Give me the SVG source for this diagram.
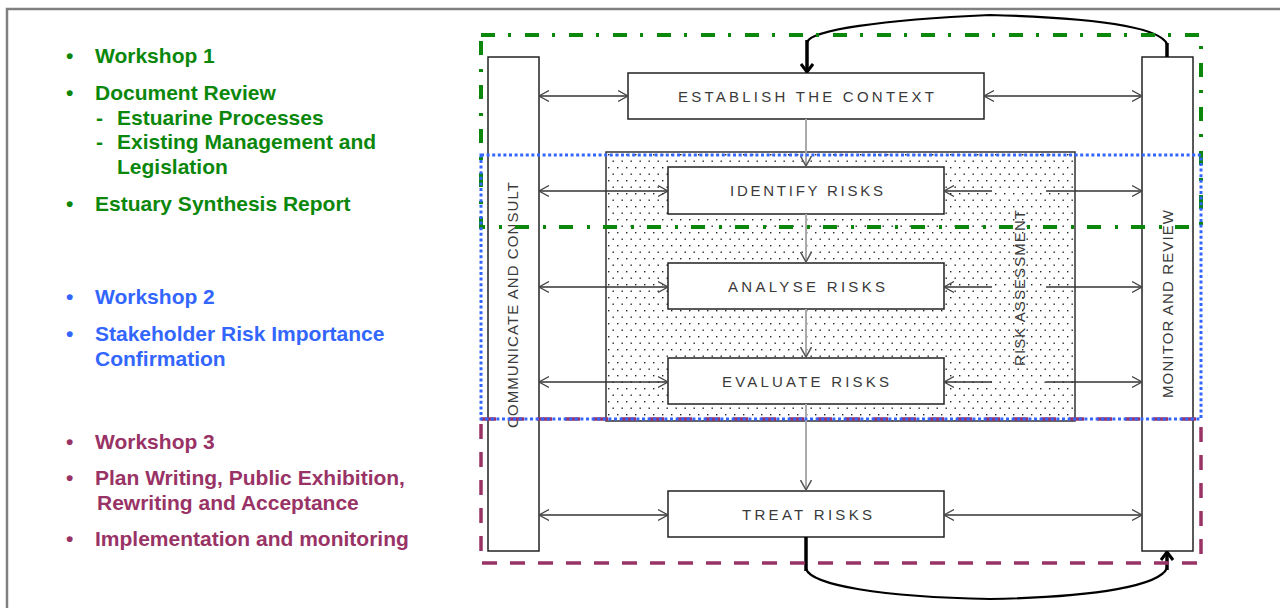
<svg xmlns="http://www.w3.org/2000/svg" width="1280" height="608" viewBox="0 0 1280 608">
<style>
.frame{stroke:#808080;stroke-width:2.5;fill:none}
.box{fill:#fff;stroke:#222;stroke-width:1.5}
.lbl{font-family:"Liberation Sans",Arial,sans-serif;font-size:15px;fill:#3a3a3a;text-anchor:middle}
.bl{font-family:"Liberation Sans",Arial,sans-serif;font-weight:bold;font-size:21px}
.g{fill:#0b870b}.b{fill:#3366ff}.p{fill:#993366}
.h{stroke:#333;stroke-width:1.3;fill:none;marker-start:url(#oa);marker-end:url(#oa)}
.hs{stroke:#333;stroke-width:1.3;fill:none}
.v{stroke:#aaa;stroke-width:2;fill:none;marker-end:url(#ov)}
.loop{stroke:#000;stroke-width:2.2;fill:none}
.stem{stroke:#000;stroke-width:3.5;fill:none}
</style>
<defs>
<marker id="oa" viewBox="0 0 10 12" refX="10" refY="6" markerWidth="10" markerHeight="12" markerUnits="userSpaceOnUse" orient="auto-start-reverse"><path d="M0,0.5 L10,6 L0,11.5" fill="none" stroke="#444" stroke-width="1.2"/></marker>
<marker id="ov" viewBox="0 0 10 12" refX="10" refY="6" markerWidth="10" markerHeight="12" markerUnits="userSpaceOnUse" orient="auto"><path d="M0,0.5 L10,6 L0,11.5" fill="none" stroke="#555" stroke-width="1.5"/></marker>
<marker id="tk" viewBox="0 0 10 14" refX="9" refY="7" markerWidth="10" markerHeight="14" markerUnits="userSpaceOnUse" orient="auto"><path d="M1,1 L9,7 L1,13" fill="none" stroke="#000" stroke-width="3"/></marker>
<pattern id="dots" width="9" height="13" patternUnits="userSpaceOnUse" x="606" y="152"><rect x="2" y="2" width="1.4" height="1.4" fill="#222"/><rect x="6.5" y="8.5" width="1.4" height="1.4" fill="#222"/></pattern>
</defs>
<rect width="1280" height="608" fill="#fff"/>
<path class="frame" d="M7,608 V9 H1280"/>

<g id="text-phase1">
<text class="bl g" x="66" y="63">•</text><text class="bl g" x="95" y="63">Workshop 1</text>
<text class="bl g" x="66" y="100">•</text><text class="bl g" x="95" y="100">Document Review</text>
<text class="bl g" x="96" y="125">-</text><text class="bl g" x="117" y="125">Estuarine Processes</text>
<text class="bl g" x="96" y="149">-</text><text class="bl g" x="117" y="149">Existing Management and</text>
<text class="bl g" x="117" y="174">Legislation</text>
<text class="bl g" x="66" y="211">•</text><text class="bl g" x="95" y="211">Estuary Synthesis Report</text>
</g>
<g id="text-phase2">
<text class="bl b" x="66" y="304">•</text><text class="bl b" x="95" y="304">Workshop 2</text>
<text class="bl b" x="66" y="341">•</text><text class="bl b" x="95" y="341">Stakeholder Risk Importance</text>
<text class="bl b" x="95" y="366">Confirmation</text>
</g>
<g id="text-phase3">
<text class="bl p" x="66" y="449">•</text><text class="bl p" x="95" y="449">Workshop 3</text>
<text class="bl p" x="66" y="485">•</text><text class="bl p" x="95" y="485">Plan Writing, Public Exhibition,</text>
<text class="bl p" x="97" y="510">Rewriting and Acceptance</text>
<text class="bl p" x="66" y="546">•</text><text class="bl p" x="95" y="546">Implementation and monitoring</text>
</g>

<g id="risk-assessment">
<rect x="606" y="152" width="469" height="269" fill="url(#dots)" stroke="#333" stroke-width="1.5"/>
<text class="lbl" transform="translate(1025,288) rotate(-90)" textLength="156" lengthAdjust="spacing">RISK ASSESSMENT</text>
</g>
<g id="communicate">
<rect class="box" x="488" y="57" width="51" height="494"/>
<text class="lbl" transform="translate(517.5,305) rotate(-90)" textLength="246" lengthAdjust="spacing">COMMUNICATE AND CONSULT</text>
</g>
<g id="monitor">
<rect class="box" x="1142" y="57" width="51" height="494"/>
<text class="lbl" transform="translate(1172.5,304) rotate(-90)" textLength="188" lengthAdjust="spacing">MONITOR AND REVIEW</text>
</g>
<g id="establish">
<rect class="box" x="628" y="73" width="356" height="46"/>
<text class="lbl" x="806" y="101.5" textLength="256" lengthAdjust="spacing">ESTABLISH THE CONTEXT</text>
</g>
<g id="identify">
<rect class="box" x="668" y="167" width="276" height="47"/>
<text class="lbl" x="806.5" y="196" textLength="153" lengthAdjust="spacing">IDENTIFY RISKS</text>
</g>
<g id="analyse">
<rect class="box" x="668" y="263" width="276" height="46"/>
<text class="lbl" x="806.5" y="291.5" textLength="157" lengthAdjust="spacing">ANALYSE RISKS</text>
</g>
<g id="evaluate">
<rect class="box" x="668" y="358" width="276" height="46"/>
<text class="lbl" x="805.5" y="386.5" textLength="167" lengthAdjust="spacing">EVALUATE RISKS</text>
</g>
<g id="treat">
<rect class="box" x="668" y="491" width="276" height="46"/>
<text class="lbl" x="807" y="519.5" textLength="130" lengthAdjust="spacing">TREAT RISKS</text>
</g>

<g id="connectors">
<path class="v" d="M806,119 V166"/>
<path class="v" d="M806,214 V262"/>
<path class="v" d="M806,309 V357"/>
<path class="v" d="M806,404 V490"/>
<path class="h" d="M539,96 H628"/>
<path class="h" d="M984,96 H1142"/>
<path class="h" d="M539,191 H668"/>
<path class="h" d="M539,287 H668"/>
<path class="h" d="M539,382 H668"/>
<path class="h" d="M539,515 H668"/>
<path class="h" d="M944,515 H1142"/>
<path class="hs" d="M944,191 H992" style="marker-start:url(#oa)"/>
<path class="hs" d="M1046,191 H1142" style="marker-end:url(#oa)"/>
<path class="hs" d="M944,287 H992" style="marker-start:url(#oa)"/>
<path class="hs" d="M1046,287 H1142" style="marker-end:url(#oa)"/>
<path class="hs" d="M944,382 H992" style="marker-start:url(#oa)"/>
<path class="hs" d="M1046,382 H1142" style="marker-end:url(#oa)"/>
<path class="loop" d="M807,42 C812,30 880,20 990,15 C1100,18 1160,28 1167,44"/>
<path class="stem" d="M1167,57 V43"/>
<path class="stem" d="M807,40 V72" style="marker-end:url(#tk)"/>
<path class="loop" d="M806,569 C812,585 880,597 990,599 C1100,597 1160,585 1167,568"/>
<path class="stem" d="M806,537 V571"/>
<path class="stem" d="M1167,570 V552" style="marker-end:url(#tk)"/>
</g>

<g id="phase-borders">
<rect x="481" y="35" width="720" height="192" fill="none" stroke="#0b870b" stroke-width="4" stroke-dasharray="14 13 3 14"/>
<rect x="481" y="419" width="720" height="144" fill="none" stroke="#993366" stroke-width="3.5" stroke-dasharray="15 13"/>
<rect x="481" y="155" width="720" height="264" fill="none" stroke="#3366ff" stroke-width="3" stroke-dasharray="3 2.6"/>
</g>
</svg>
